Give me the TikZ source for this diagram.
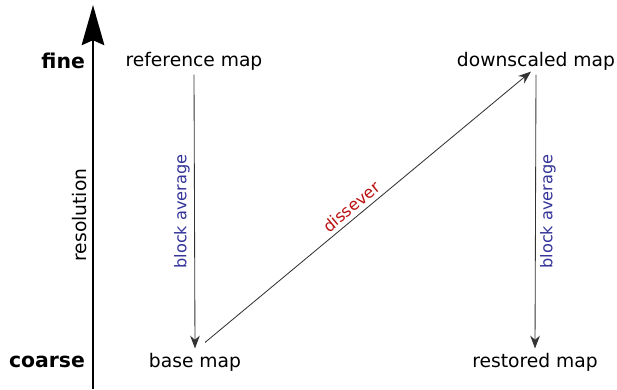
\documentclass[tikz,border=0pt]{standalone}
\usepackage{fontspec}
\setmainfont{DejaVu Sans}
\usetikzlibrary{arrows.meta, positioning, calc}
\definecolor{avgblue}{HTML}{333399}
\definecolor{disred}{HTML}{BB1111}
\definecolor{linegrey}{HTML}{333333}
\tikzset{
  mapname/.style={font=\fontsize{13.3}{15}\selectfont, inner sep=3pt},
  level/.style={font=\fontsize{14.5}{16}\selectfont\bfseries, inner sep=2pt},
  steplabel/.style={font=\fontsize{11.5}{13}\selectfont, inner sep=3pt},
  link/.style={-{Stealth[length=3.2mm, width=2.4mm]}, linegrey, line width=0.6pt},
  axis/.style={-{Stealth[length=1cm, width=0.56cm, inset=0.12cm]}, black, line width=2pt},
}
\begin{document}
\begin{tikzpicture}[x=0.025cm, y=-0.025cm]
\useasboundingbox (0,0) rectangle (617,389);
% resolution axis
\coordinate (axbot) at (93,389);
\coordinate (axtop) at (93,5);
\draw[axis] (axbot) -- (axtop);
\node[level, anchor=east] (fine) at (88,61) {fine};
\node[level, anchor=east] (coarse) at (88,362) {coarse};
\node[steplabel, rotate=90, font=\fontsize{13.3}{15}\selectfont] (res) at (80,215) {resolution};
% maps
\node[mapname] (ref) at (194,61) {reference map};
\node[mapname] (down) at (536,61) {downscaled map};
\node[mapname] (base) at (195,362) {base map};
\node[mapname] (rest) at (535,362) {restored map};
% steps
\draw[link] (ref.south) -- node[steplabel, rotate=90, above, text=avgblue] {block average} (base.north);
\draw[link] ($(base.north)+(10,-6)$) -- node[steplabel, sloped, above, pos=0.47, text=disred] {dissever} ($(down.south)+(-5,-3)$);
\draw[link] (down.south) -- node[steplabel, rotate=90, below, text=avgblue] {block average} (rest.north);
\end{tikzpicture}
\end{document}
